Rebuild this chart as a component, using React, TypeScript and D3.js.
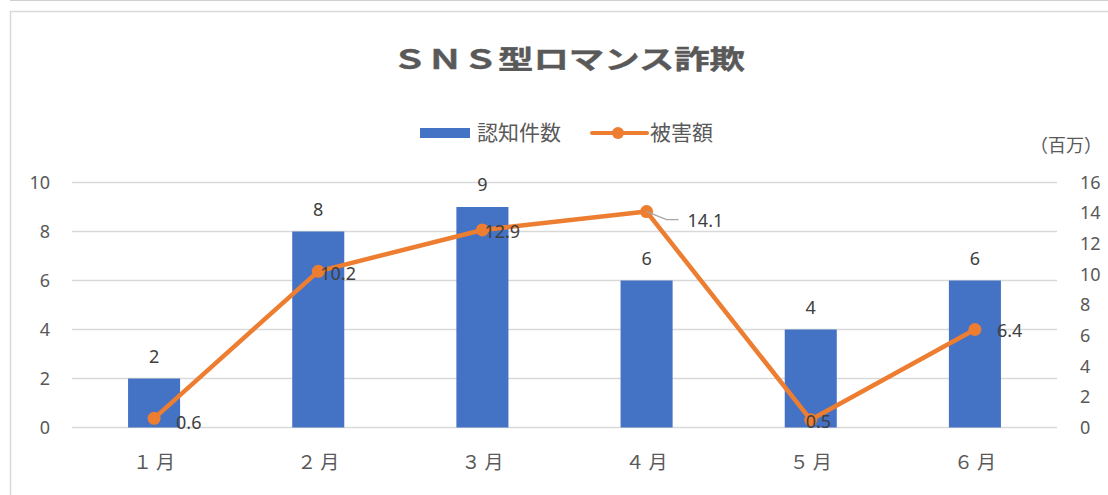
import React from "react";
import * as d3 from "d3";

const categories = ["１月", "２月", "３月", "４月", "５月", "６月"];
const caseCounts = [2, 8, 9, 6, 4, 6];
const damageAmounts = [0.6, 10.2, 12.9, 14.1, 0.5, 6.4];
const leftTicks = [0, 2, 4, 6, 8, 10];
const rightTicks = [0, 2, 4, 6, 8, 10, 12, 14, 16];
const seriesNames = ["認知件数", "被害額"];
const titleText = "ＳＮＳ型ロマンス詐欺";
const unitText = "（百万）";

// label offsets (styling only)
const lineLabelOffsets: [number, number][] = [
  [22, 4],
  [2, 2],
  [2, 2],
  [41, 9],
  [-5, 2],
  [22, 1],
];

const W = 1108;
const H = 495;
const plot = { left: 72, right: 1057, top: 182.5, bottom: 427.5 };
const BLUE = "#4472C4";
const ORANGE = "#ED7D31";
const FONT = "'Noto Sans', 'Noto Sans CJK JP', sans-serif";
const CJK = "'Noto Sans CJK JP', 'Noto Sans', sans-serif";

export default function App() {
  const x = d3
    .scaleBand<string>()
    .domain(categories)
    .range([plot.left, plot.right])
    .paddingInner(0.683)
    .paddingOuter(0.3415);
  const yL = d3.scaleLinear().domain([0, 10]).range([plot.bottom, plot.top]);
  const yR = d3.scaleLinear().domain([0, 16]).range([plot.bottom, plot.top]);
  const cx = (c: string) => (x(c) ?? 0) + x.bandwidth() / 2;

  const linePath = d3
    .line<number>()
    .x((_, i) => cx(categories[i]))
    .y((d) => yR(d))(damageAmounts);

  return (
    <svg
      width={W}
      height={H}
      style={{ position: "absolute", left: 0, top: 0, background: "#fff" }}
    >
      <line x1={10} x2={W} y1={0.5} y2={0.5} stroke="#d0d0d0" strokeWidth={1} />
      <rect
        x={10.5}
        y={11.5}
        width={W + 50}
        height={H + 50}
        fill="none"
        stroke="#d9d9d9"
        strokeWidth={1.5}
      />

      <text
        x={392}
        y={69}
        fontFamily={CJK}
        fontWeight="bold"
        fontSize={26}
        fill="#595959"
        stroke="#595959"
        strokeWidth={0.4}
        textLength={353}
        lengthAdjust="spacingAndGlyphs"
      >
        {titleText}
      </text>

      {/* legend */}
      <rect x={420} y={128} width={50} height={10} fill={BLUE} />
      <text x={477} y={140} fontFamily={CJK} fontSize={21} fill="#595959">
        {seriesNames[0]}
      </text>
      <line x1={592} x2={647} y1={133} y2={133} stroke={ORANGE} strokeWidth={4} strokeLinecap="round" />
      <circle cx={618} cy={133} r={6} fill={ORANGE} />
      <text x={650} y={140} fontFamily={CJK} fontSize={21} fill="#595959">
        {seriesNames[1]}
      </text>

      <text x={1030} y={152} fontFamily={CJK} fontSize={18} fill="#595959">
        {unitText}
      </text>

      {/* gridlines */}
      {leftTicks.map((t) => (
        <line
          key={"g" + t}
          x1={plot.left}
          x2={plot.right}
          y1={yL(t)}
          y2={yL(t)}
          stroke="#d9d9d9"
          strokeWidth={1.3}
        />
      ))}

      {/* left axis labels */}
      {leftTicks.map((t) => (
        <text
          key={"l" + t}
          x={50}
          y={yL(t)}
          dy="0.35em"
          textAnchor="end"
          fontFamily={FONT}
          fontSize={18}
          fill="#595959"
        >
          {t}
        </text>
      ))}

      {/* right axis labels */}
      {rightTicks.map((t) => (
        <text
          key={"r" + t}
          x={1080}
          y={yR(t)}
          dy="0.35em"
          textAnchor="start"
          fontFamily={FONT}
          fontSize={18}
          fill="#595959"
        >
          {t}
        </text>
      ))}

      {/* x labels */}
      {categories.map((c) => (
        <text
          key={"x" + c}
          x={cx(c) + 2}
          y={469}
          textAnchor="middle"
          fontFamily={CJK}
          fontSize={19}
          letterSpacing={4}
          fill="#595959"
        >
          {c}
        </text>
      ))}

      {/* bars */}
      {categories.map((c, i) => (
        <rect
          key={"b" + c}
          x={x(c)}
          y={yL(caseCounts[i])}
          width={x.bandwidth()}
          height={yL(0) - yL(caseCounts[i])}
          fill={BLUE}
        />
      ))}
      {categories.map((c, i) => (
        <text
          key={"bl" + c}
          x={cx(c)}
          y={yL(caseCounts[i]) - 16}
          textAnchor="middle"
          fontFamily={FONT}
          fontSize={18}
          fill="#404040"
        >
          {caseCounts[i]}
        </text>
      ))}

      {/* line */}
      <path d={linePath ?? ""} fill="none" stroke={ORANGE} strokeWidth={4.5} strokeLinejoin="round" strokeLinecap="round" />
      {damageAmounts.map((v, i) => (
        <circle key={"m" + i} cx={cx(categories[i])} cy={yR(v)} r={6.5} fill={ORANGE} />
      ))}

      {/* leader line for 14.1 */}
      <polyline
        points={`${cx(categories[3])},${yR(damageAmounts[3])} ${cx(categories[3]) + 20},${yR(damageAmounts[3]) + 8} ${cx(categories[3]) + 32},${yR(damageAmounts[3]) + 8}`}
        fill="none"
        stroke="#a6a6a6"
        strokeWidth={1.2}
      />

      {damageAmounts.map((v, i) => (
        <text
          key={"ll" + i}
          x={cx(categories[i]) + lineLabelOffsets[i][0]}
          y={yR(v) + lineLabelOffsets[i][1]}
          dy="0.35em"
          textAnchor="start"
          fontFamily={FONT}
          fontSize={18}
          fill="#404040"
        >
          {v}
        </text>
      ))}
    </svg>
  );
}
